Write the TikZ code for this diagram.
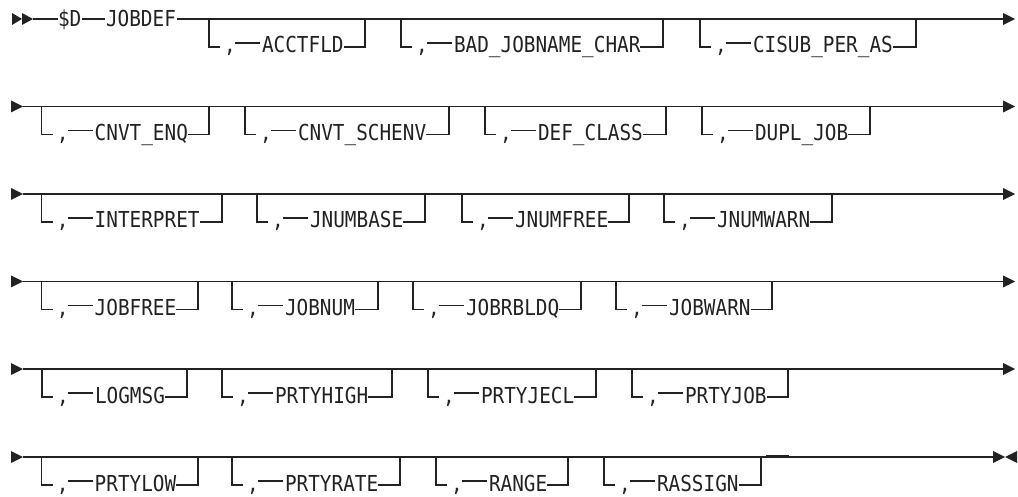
\documentclass[tikz,border=0pt]{standalone}
\usepackage{fontspec}
\newfontfamily\rrfont[FakeStretch=0.88]{DejaVu Sans Mono}
\definecolor{ink}{HTML}{222222}
\tikzset{
  rail/.style={draw=ink, line width=1.2pt},
  lbl/.style={inner sep=0pt, outer sep=0pt, text=ink, font=\rrfont\fontsize{22}{22}\selectfont, anchor=base west},
  tri/.style={fill=ink, draw=none}
}
% #1 Y, #2 L, #3 R, #4 label, #5 name
\newcommand\rrbranch[5]{%
  \coordinate (#5-top) at (#2,#1);
  \coordinate (#5-c) at (#2+11,#1+28);
  \coordinate (#5-r) at (#3,#1+28);
  \coordinate (#5-rt) at (#3,#1);
  \node[lbl,anchor=base] (#5-comma) at (#2+21,#1+34) {,};
  \coordinate (#5-d1) at (#2+26,#1+24);
  \coordinate (#5-d2) at (#2+51,#1+24);
  \node[lbl] (#5) at (#2+53,#1+34) {#4};
  \draw[rail] (#5-top) |- (#5-c);
  \draw[rail] (#5-d1) -- (#5-d2);
  \draw[rail] (#5.east |- #5-r) -- (#5-r) -- (#5-rt);
}
% #1 Y : row start marker and main line to end arrow
\newcommand\rrrow[2]{%
  \coordinate (s#2) at (23,#1);
  \coordinate (e#2) at (1003,#1);
  \fill[tri] (11,#1-6) -- (s#2) -- (11,#1+6) -- cycle;
  \draw[rail] (s#2) -- (e#2);
  \fill[tri] (1003,#1-6) -- (1015,#1) -- (1003,#1+6) -- cycle;
}
\begin{document}
\begin{tikzpicture}[x=1pt,y=-1pt]
\useasboundingbox (0,0) rectangle (1018,497);
% ---------- row 1
\fill[tri] (12,13) -- (22,19) -- (12,25) -- cycle;
\fill[tri] (22,13) -- (33,19) -- (22,25) -- cycle;
\coordinate (s1) at (33,19);
\node[lbl] (sd) at (58,27) {\$D};
\node[lbl] (jd) at (106,27) {JOBDEF};
\coordinate (e1) at (1003,19);
\draw[rail] (s1) -- (sd.west |- s1);
\draw[rail] ([xshift=1pt]sd.east |- s1) -- ([xshift=-1pt]jd.west |- s1);
\draw[rail] ([xshift=1pt]jd.east |- s1) -- (e1);
\fill[tri] (1003,13) -- (1015,19) -- (1003,25) -- cycle;
\rrbranch{19}{209}{365}{ACCTFLD}{acctfld}
\rrbranch{19}{401}{663}{BAD\_JOBNAME\_CHAR}{badjob}
\rrbranch{19}{700}{916}{CISUB\_PER\_AS}{cisub}
% ---------- row 2
\rrrow{106.5}{2}
\rrbranch{106.5}{41.7}{209}{CNVT\_ENQ}{cnvtenq}
\rrbranch{106.5}{245}{449}{CNVT\_SCHENV}{cnvtsch}
\rrbranch{106.5}{485}{666}{DEF\_CLASS}{defclass}
\rrbranch{106.5}{702}{870}{DUPL\_JOB}{dupljob}
% ---------- row 3
\rrrow{194}{3}
\rrbranch{194}{41.7}{222}{INTERPRET}{interpret}
\rrbranch{194}{257}{425}{JNUMBASE}{jnumbase}
\rrbranch{194}{462}{629}{JNUMFREE}{jnumfree}
\rrbranch{194}{664}{832}{JNUMWARN}{jnumwarn}
% ---------- row 4
\rrrow{281.5}{4}
\rrbranch{281.5}{41.7}{198}{JOBFREE}{jobfree}
\rrbranch{281.5}{232}{378}{JOBNUM}{jobnum}
\rrbranch{281.5}{413}{581}{JOBRBLDQ}{jobrbldq}
\rrbranch{281.5}{616}{772}{JOBWARN}{jobwarn}
% ---------- row 5
\rrrow{369}{5}
\rrbranch{369}{42}{187}{LOGMSG}{logmsg}
\rrbranch{369}{222}{392}{PRTYHIGH}{prtyhigh}
\rrbranch{369}{428}{596}{PRTYJECL}{prtyjecl}
\rrbranch{369}{632}{788}{PRTYJOB}{prtyjob}
% ---------- row 6
\coordinate (s6) at (23,457);
\coordinate (e6) at (993,457);
\fill[tri] (11,451) -- (s6) -- (11,463) -- cycle;
\draw[rail] (s6) -- (e6);
\fill[tri] (993,451) -- (1005,457) -- (993,463) -- cycle;
\fill[tri] (1017,451) -- (1005,457) -- (1017,463) -- cycle;
\coordinate (stubA) at (766,456);
\coordinate (stubB) at (789,456);
\draw[rail] (stubA) -- (stubB);
\rrbranch{457}{41.7}{198}{PRTYLOW}{prtylow}
\rrbranch{457}{232}{400}{PRTYRATE}{prtyrate}
\rrbranch{457}{436}{568}{RANGE}{range}
\rrbranch{457}{604}{761}{RASSIGN}{rassign}
\end{tikzpicture}
\end{document}
